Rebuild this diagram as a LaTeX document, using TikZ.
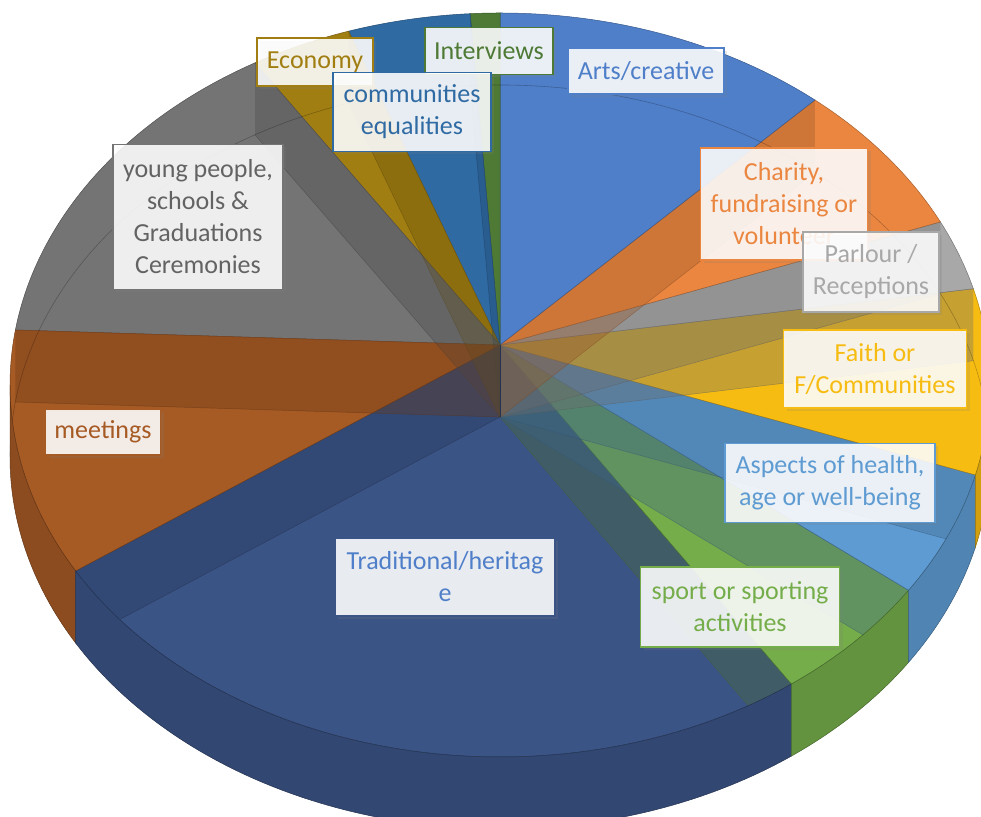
\documentclass[tikz,border=0pt]{standalone}
\usepackage{fontspec}
\setmainfont{Carlito}
\usetikzlibrary{calc,shadows}

\definecolor{tradblue}{HTML}{3B5486}
\definecolor{sportgreen}{HTML}{74AD4A}
\definecolor{healthblue}{HTML}{5E9BD2}
\definecolor{faithgold}{HTML}{F7BC12}
\definecolor{parlourgrey}{HTML}{A8A8A8}
\definecolor{charityorange}{HTML}{EB8640}
\definecolor{artsblue}{HTML}{4F7FC9}
\definecolor{interviewgreen}{HTML}{4E7A35}
\definecolor{commblue}{HTML}{2F6AA3}
\definecolor{economygold}{HTML}{A17E12}
\definecolor{younggrey}{HTML}{747474}
\definecolor{meetingbrown}{HTML}{A65A24}

\tikzset{
    lbl/.style={draw=#1, text=#1, line width=1.5pt, fill=white, fill opacity=0.88,
        text opacity=1, align=center, inner sep=0pt,
        font=\fontsize{26}{32}\selectfont,
        drop shadow={opacity=0.18, shadow xshift=3pt, shadow yshift=-3pt}},
}

\begin{document}
\begin{tikzpicture}[x=1pt, y=1pt]
    \useasboundingbox (0,0) rectangle (981,816);
    \clip (0,0) rectangle (981,816);
    \coordinate (ctr) at (500,431);
    \coordinate (ctrlow) at (500,359);
    \coordinate (apex) at (500,471);
    \coordinate (apexlow) at (500,399);
    % top faces
    \foreach \s/\e/\col in {
        -150/-53.5/tradblue, -53.5/-33.5/sportgreen, -33.5/-14/healthblue,
        -14/15/faithgold, 15/26/parlourgrey, 26/50/charityorange,
        50/90/artsblue, 90/93.5/interviewgreen, 93.5/108/commblue,
        108/120/economygold, 120/171.5/younggrey, 171.5/210/meetingbrown}{
        \fill[\col, draw=\col!70!black, line width=0.5pt]
            (apex) -- ([shift={(\s:490pt and 372pt)}]ctr)
            arc[start angle=\s, end angle=\e, x radius=490pt, y radius=372pt] -- cycle;
    }
    % walls seen through the top
    \foreach \t/\col in {
        -150/tradblue, -53.5/sportgreen, -33.5/healthblue, -14/healthblue,
        15/parlourgrey, 26/parlourgrey, 50/charityorange, 93.5/commblue,
        108/economygold, 120/younggrey, 171.5/meetingbrown}{
        \fill[\col!65!black, fill opacity=0.35]
            (apex) -- ([shift={(\t:490pt and 372pt)}]ctr)
            -- ([shift={(\t:490pt and 372pt)}]ctrlow) -- (apexlow) -- cycle;
        \draw[\col!55!black, opacity=0.5, line width=0.5pt]
            ([shift={(\t:490pt and 372pt)}]ctrlow) -- (apexlow);
    }
    \draw[black, opacity=0.25, line width=0.6pt]
        ([shift={(0:490pt and 372pt)}]ctrlow)
        arc[start angle=0, end angle=180, x radius=490pt, y radius=372pt];
    \draw[tradblue!60!black, line width=0.6pt] (apex) -- (apexlow);
    % front side
    \foreach \s/\e/\col in {
        -180/-150/meetingbrown, -150/-53.5/tradblue, -53.5/-33.5/sportgreen,
        -33.5/-14/healthblue, -14/0/faithgold}{
        \fill[\col!85!black, draw=\col!60!black, line width=0.5pt]
            ([shift={(\s:490pt and 372pt)}]ctr)
            arc[start angle=\s, end angle=\e, x radius=490pt, y radius=372pt]
            -- ([shift={(\e:490pt and 372pt)}]ctrlow)
            arc[start angle=\e, end angle=\s, x radius=490pt, y radius=372pt] -- cycle;
    }

    % labels
    \node[lbl=economygold, minimum width=116pt, minimum height=48pt] (economy) at (315,754) {Economy};
    \node[lbl=interviewgreen, minimum width=128pt, minimum height=47pt] (interviews) at (489,765) {Interviews};
    \node[lbl=commblue, minimum width=158pt, minimum height=79pt] (communities) at (412,704) {communities\\equalities};
    \node[lbl=artsblue, minimum width=156pt, minimum height=46pt] (arts) at (646,745) {Arts/creative};
    \node[lbl=younggrey, text=younggrey!85!black, minimum width=170pt, minimum height=145pt] (young) at (198,599)
        {young people,\\schools \&\\Graduations\\Ceremonies};
    \node[lbl=charityorange, minimum width=167pt, minimum height=112pt] (charity) at (784,612)
        {Charity,\\fundraising or\\volunteer};
    \node[lbl=parlourgrey, minimum width=136pt, minimum height=80pt] (parlour) at (871,544) {Parlour /\\Receptions};
    \node[lbl=faithgold, minimum width=183pt, minimum height=78pt] (faith) at (875,447) {Faith or\\F/Communities};
    \node[lbl=meetingbrown, minimum width=115pt, minimum height=46pt] (meetings) at (103,384) {meetings};
    \node[lbl=healthblue, minimum width=210pt, minimum height=79pt] (aspects) at (830,333)
        {Aspects of health,\\age or well-being};
    \node[lbl=tradblue, text=artsblue, minimum width=220pt, minimum height=78pt] (heritage) at (445,239)
        {Traditional/heritag\\e};
    \node[lbl=sportgreen, minimum width=199pt, minimum height=80pt] (sport) at (740,209)
        {sport or sporting\\activities};
\end{tikzpicture}
\end{document}
